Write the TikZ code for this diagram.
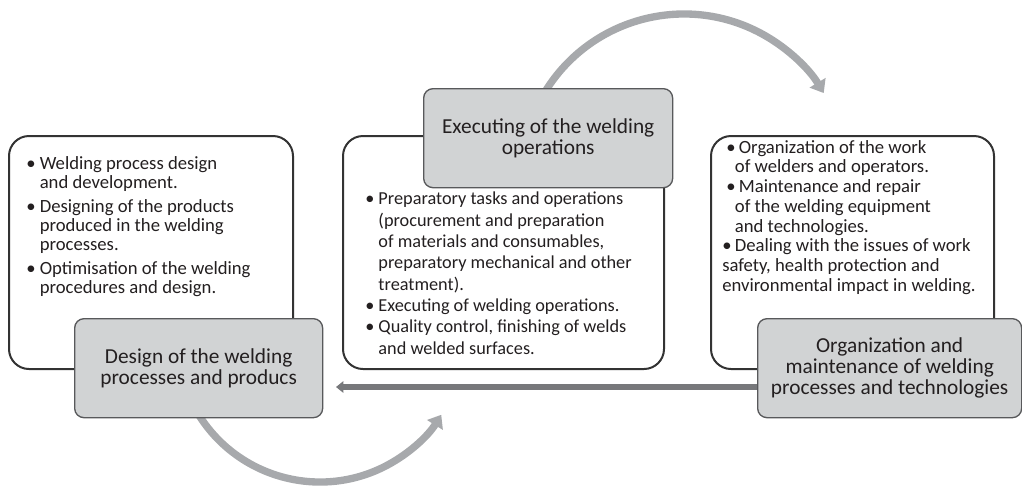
\documentclass[tikz,border=0pt]{standalone}
\usepackage{fontspec}
\setmainfont{Carlito}
\usetikzlibrary{arrows.meta,backgrounds}
\definecolor{boxgrey}{HTML}{D1D3D4}
\definecolor{edgegrey}{HTML}{58595B}
\definecolor{wedge}{HTML}{333333}
\definecolor{arcgrey}{HTML}{A7A9AC}
\definecolor{bargrey}{HTML}{77787B}
\definecolor{txt}{HTML}{231F20}
\begin{document}
\begin{tikzpicture}[x=0.75pt,y=-0.75pt,
  wbox/.style={draw=wedge, line width=1.5pt, fill=white, rounded corners=15pt,
    anchor=north west, inner sep=0pt, minimum height=174.75pt},
  gbox/.style={draw=edgegrey, line width=1pt, fill=boxgrey, rounded corners=7pt,
    anchor=north west, inner sep=0pt, minimum height=74.25pt, align=center,
    text=txt, font=\fontsize{16}{15.75}\selectfont},
  body/.style={align=left, text=txt, inner sep=0pt, anchor=north west},
  arcarrow/.style={draw=arcgrey, line width=5.5pt, -{Triangle[width=13.5pt,length=9pt]}},
  bararrow/.style={draw=bargrey, line width=5pt, -{Triangle[width=8.5pt,length=5.5pt]}}
]
\useasboundingbox (0,0) rectangle (1022,487);

% white content boxes
\node[wbox, minimum width=213pt] (LW) at (8,135) {};
\node[wbox, minimum width=240.75pt] (MW) at (342,135) {};
\node[wbox, minimum width=212.25pt] (RW) at (710,135) {};

% grey title boxes
\node[gbox, minimum width=186pt] (LG) at (74,318)
  {Design of the welding\\processes and producs};
\node[gbox, minimum width=186.75pt] (MG) at (423,88)
  {Executing of the welding\\operations};
\node[gbox, minimum width=198pt] (RG) at (757,318)
  {Organization and\\maintenance of welding\\processes and technologies};

% body texts
\node[body, font=\fontsize{14}{14.25}\selectfont] (LT) at (26,156)
  {• Welding process design\\
   \phantom{• }and development.\\[4pt]
   • Designing of the products\\
   \phantom{• }produced in the welding\\
   \phantom{• }processes.\\[4pt]
   • Optimisation of the welding\\
   \phantom{• }procedures and design.};

\node[body, font=\fontsize{13.7}{16}\selectfont] (MT) at (365,192)
  {• Preparatory tasks and operations\\
   \phantom{• }(procurement and preparation\\
   \phantom{• }of materials and consumables,\\
   \phantom{• }preparatory mechanical and other\\
   \phantom{• }treatment).\\
   • Executing of welding operations.\\
   • Quality control, finishing of welds\\
   \phantom{• }and welded surfaces.};

\node[body, font=\fontsize{14}{14.8}\selectfont] (RT) at (722,140)
  {\hspace*{3pt}•\hspace{2.5pt}Organization of the work\\
   \hspace*{9.5pt}of welders and operators.\\
   \hspace*{3pt}•\hspace{2.5pt}Maintenance and repair\\
   \hspace*{9.5pt}of the welding equipment\\
   \hspace*{9.5pt}and technologies.\\
   •\hspace{2.5pt}Dealing with the issues of work\\
   safety, health protection and\\
   environmental impact in welding.};

% connectors
\coordinate (botC) at (320,339);
\coordinate (topC) at (684,177);
\coordinate (hend) at (336,387);
\begin{scope}[on background layer]
  \draw[arcarrow] ([shift={(208:107.25pt)}]botC) arc[start angle=208, end angle=328, radius=107.25pt];
  \draw[arcarrow] ([shift={(150:122.25pt)}]topC) arc[start angle=150, end angle=31, radius=122.25pt];
  \draw[bararrow] ([xshift=3pt]RG.west |- hend) -- (hend);
\end{scope}
\end{tikzpicture}
\end{document}
